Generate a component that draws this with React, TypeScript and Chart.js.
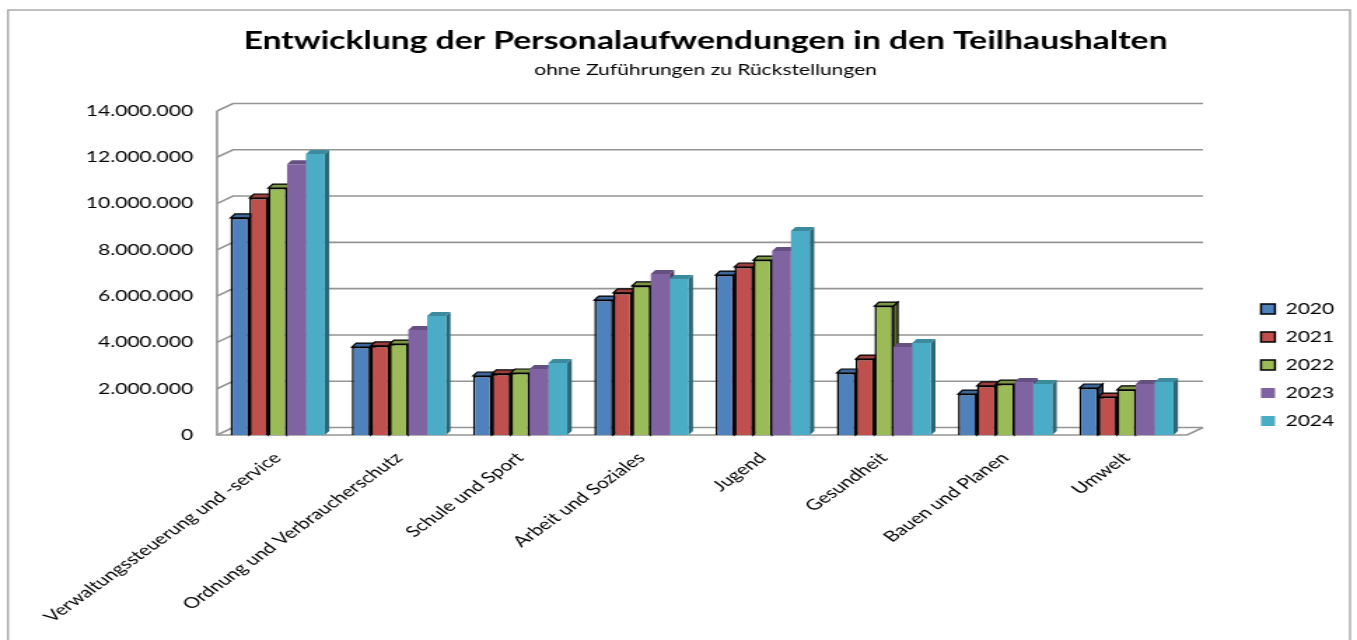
import React, { useEffect, useRef } from "react";
import { Chart, registerables } from "chart.js";

Chart.register(...registerables);

const categories = [
  "Verwaltungssteuerung und -service",
  "Ordnung und Verbraucherschutz",
  "Schule und Sport",
  "Arbeit und Soziales",
  "Jugend",
  "Gesundheit",
  "Bauen und Planen",
  "Umwelt",
];
const s2020 = [9380000, 10, 0].slice(0, 0).concat([9380000, 3800000, 2550000, 5830000, 6910000, 2680000, 1770000, 2030000]);
const s2021 = [10240000, 3850000, 2640000, 6140000, 7260000, 3280000, 2120000, 1640000];
const s2022 = [10670000, 3930000, 2680000, 6440000, 7560000, 5570000, 2200000, 1950000];
const s2023 = [11700000, 4540000, 2850000, 6960000, 7950000, 3800000, 2290000, 2200000];
const s2024 = [12140000, 5140000, 3110000, 6740000, 8820000, 3980000, 2200000, 2290000];
const years = ["2020", "2021", "2022", "2023", "2024"];
const fronts = ["#4F81BD", "#C0504D", "#9BBB59", "#8064A2", "#4BACC6"];
const tops = ["#3F6797", "#9A403E", "#7C9647", "#665082", "#3C8A9E"];
const sides = ["#2F4D71", "#73302E", "#5D7035", "#4C3C61", "#2D6777"];
const outlined = [true, true, true, false, false];

const FONT = "Lato";
const CW = 969;
const CH = 640;
const SX = 1357 / CW;
const GRID = "#959595";

const box3d = {
  id: "box3d",
  beforeDraw(chart: any) {
    const { ctx, scales } = chart;
    const y = scales.y;
    const left = chart.chartArea.left;
    const right = chart.chartArea.right;
    const dx = 16 / SX;
    const dy = 7.5;
    ctx.save();
    ctx.fillStyle = "#ffffff";
    ctx.fillRect(0, 0, CW, CH);
    ctx.strokeStyle = "#a6a6a6";
    ctx.lineWidth = 1.4;
    ctx.strokeRect(8 / SX, 10, 1342 / SX, CH + 20);
    ctx.strokeStyle = GRID;
    ctx.lineWidth = 1.6;
    y.ticks.forEach((t: any) => {
      const py = y.getPixelForValue(t.value);
      ctx.beginPath();
      ctx.moveTo(left, py);
      ctx.lineTo(left + dx, py - dy);
      ctx.lineTo(right + dx, py - dy);
      ctx.stroke();
    });
    const bottom = y.getPixelForValue(0);
    const topY = y.getPixelForValue(y.max);
    ctx.beginPath();
    ctx.moveTo(left, topY);
    ctx.lineTo(left, bottom);
    ctx.lineTo(right, bottom);
    ctx.lineTo(right + dx, bottom - dy);
    ctx.stroke();
    ctx.restore();
  },
  beforeDatasetsDraw(chart: any) {
    const { ctx } = chart;
    const d = 4.5 / SX;
    const e = 4;
    ctx.save();
    chart.data.datasets.forEach((_: any, i: number) => {
      chart.getDatasetMeta(i).data.forEach((bar: any) => {
        const l = bar.x - bar.width / 2;
        const r = bar.x + bar.width / 2;
        const t = bar.y;
        const b = bar.base;
        ctx.lineWidth = 1.2;
        ctx.strokeStyle = "#000";
        ctx.fillStyle = sides[i];
        ctx.beginPath();
        ctx.moveTo(r, t);
        ctx.lineTo(r + d, t - e);
        ctx.lineTo(r + d, b - e);
        ctx.lineTo(r, b);
        ctx.closePath();
        ctx.fill();
        if (outlined[i]) ctx.stroke();
        ctx.fillStyle = tops[i];
        ctx.beginPath();
        ctx.moveTo(l, t);
        ctx.lineTo(l + d, t - e);
        ctx.lineTo(r + d, t - e);
        ctx.lineTo(r, t);
        ctx.closePath();
        ctx.fill();
        if (outlined[i]) ctx.stroke();
      });
    });
    ctx.restore();
  },
};

const placeBlocks = {
  id: "placeBlocks",
  beforeLayout(chart: any) {
    const l = chart.legend;
    if (l && !l.__patched) {
      const fit = l.fit;
      l.fit = function () {
        fit.call(l);
        l.width = CW - 1187 / SX;
      };
      l.__patched = true;
    }
  },
  afterLayout(chart: any) {
    const center = 705.5 / SX;
    chart.boxes.forEach((b: any) => {
      if (b.options && b.options.text !== undefined && b.options.display) {
        b.left = center - 400;
        b.right = center + 400;
      }
    });
    const l = chart.legend;
    l.left = 1261 / SX - 13;
    l.right = CW;
    l.top = 205;
    l.bottom = 525;
  },
};

const series = [s2020, s2021, s2022, s2023, s2024];

export default function App() {
  const ref = useRef<HTMLCanvasElement>(null);
  useEffect(() => {
    const chart = new Chart(ref.current as HTMLCanvasElement, {
      type: "bar",
      data: {
        labels: categories,
        datasets: series.map((data, i) => ({
          label: years[i],
          data,
          backgroundColor: fronts[i],
          borderColor: outlined[i] ? "#000000" : fronts[i],
          borderWidth: outlined[i] ? 1.5 : 0,
          categoryPercentage: 0.777,
          barPercentage: 1,
        })),
      },
      plugins: [box3d, placeBlocks],
      options: {
        animation: false,
        responsive: false,
        layout: { padding: 0 },
        plugins: {
          tooltip: { enabled: false },
          title: {
            display: true,
            text: "Entwicklung der Personalaufwendungen in den Teilhaushalten",
            color: "#000",
            fullSize: false,
            font: { family: FONT, size: 24, weight: "bold", lineHeight: 1.2 },
            padding: { top: 27, bottom: 0 },
          },
          subtitle: {
            display: true,
            text: "ohne Zuführungen zu Rückstellungen",
            color: "#000",
            fullSize: false,
            font: { family: FONT, size: 15, weight: "normal", lineHeight: 1.2 },
            padding: { top: 5, bottom: 32.2 },
          },
          legend: {
            position: "right",
            labels: {
              boxWidth: 14 / SX,
              boxHeight: 10,
              padding: 13,
              color: "#000",
              font: { family: FONT, size: 15, lineHeight: 1.2 },
            },
          },
        },
        scales: {
          x: {
            grid: { display: false, drawTicks: false },
            border: { display: false },
            afterFit: (s: any) => {
              s.height = 205;
            },
            ticks: {
              autoSkip: false,
              minRotation: 45,
              maxRotation: 45,
              padding: 14,
              color: "#000",
              font: { family: FONT, size: 15 },
            },
          },
          y: {
            min: 0,
            max: 14000000,
            grid: { display: false, drawTicks: false },
            border: { display: false },
            afterFit: (s: any) => {
              s.width = 217 / SX;
            },
            ticks: {
              stepSize: 2000000,
              padding: 17,
              color: "#000",
              font: { family: FONT, size: 15 },
              callback: (v: any) => Number(v).toLocaleString("de-DE"),
            },
          },
        },
      },
    } as any);
    return () => chart.destroy();
  }, []);
  return (
    <div style={{ position: "fixed", left: 0, top: 0, width: 1357, height: 640, overflow: "hidden", background: "#fff" }}>
      <canvas
        ref={ref}
        width={CW}
        height={CH}
        style={{ position: "absolute", left: 0, top: 0, transform: `scale(${SX}, 1)`, transformOrigin: "0 0" }}
      />
    </div>
  );
}
